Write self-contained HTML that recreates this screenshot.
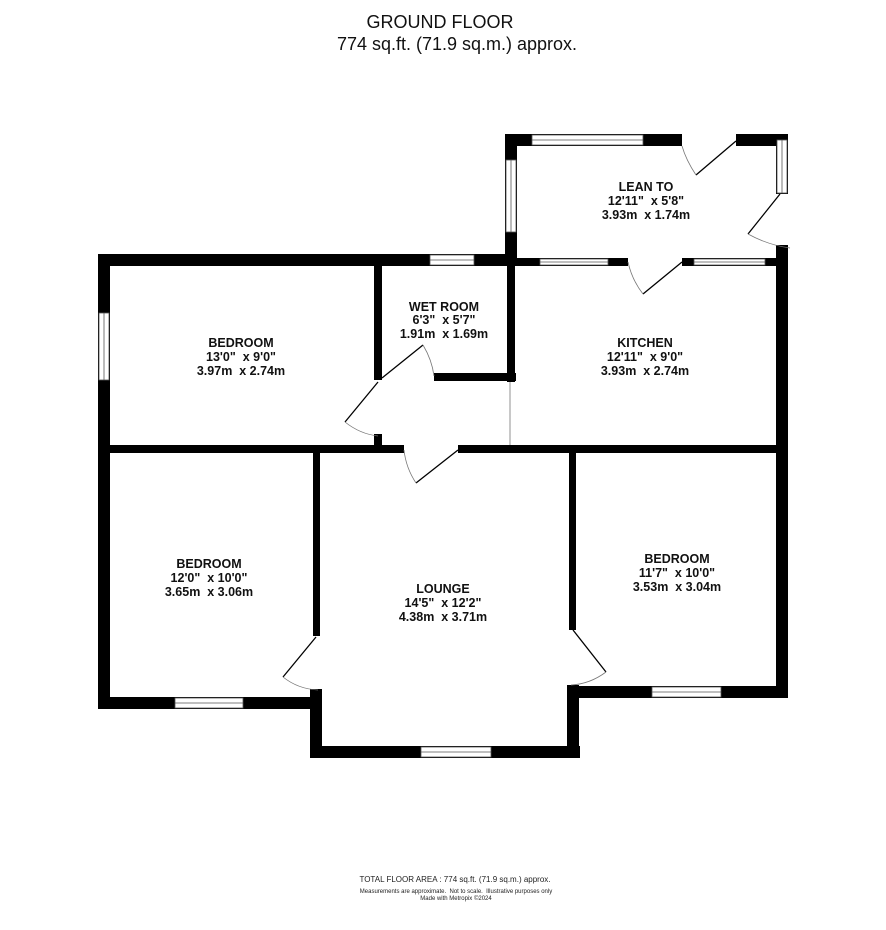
<!DOCTYPE html>
<html><head><meta charset="utf-8"><style>
html,body{margin:0;padding:0;background:#fff;width:886px;height:930px;overflow:hidden}
svg{display:block}
text{font-family:"Liberation Sans",Arial,sans-serif;white-space:pre}
.l{font-weight:bold;font-size:12.5px;text-anchor:middle;fill:#111}
</style></head><body>
<svg width="886" height="930" viewBox="0 0 886 930" xml:space="preserve">
<g font-family="Liberation Sans" fill="#111">
<text x="440" y="28" font-size="18" text-anchor="middle">GROUND FLOOR</text>
<text x="457" y="50" font-size="18" text-anchor="middle">774 sq.ft. (71.9 sq.m.) approx.</text>
</g>
<g fill="#000">
<rect x="98" y="254" width="417" height="12"/>
<rect x="98" y="254" width="12" height="455"/>
<rect x="98" y="697" width="222" height="12"/>
<rect x="310" y="689" width="12" height="69"/>
<rect x="310" y="746" width="270" height="12"/>
<rect x="567" y="685" width="12" height="73"/>
<rect x="567" y="686" width="221" height="12"/>
<rect x="776" y="245" width="12" height="453"/>
<rect x="110" y="445" width="294" height="8"/>
<rect x="374" y="434" width="8" height="11"/>
<rect x="458" y="445" width="318" height="8"/>
<rect x="313" y="453" width="7" height="183"/>
<rect x="569" y="453" width="7" height="177"/>
<rect x="374" y="266" width="8" height="114"/>
<rect x="434" y="373" width="82" height="8"/>
<rect x="507" y="258" width="8" height="124"/>
<rect x="505" y="134" width="12" height="132"/>
<rect x="505" y="134" width="177" height="12"/>
<rect x="736" y="134" width="52" height="12"/>
<rect x="776" y="134" width="12" height="60"/>
<rect x="490" y="258" width="138" height="8"/>
<rect x="682" y="258" width="106" height="8"/>
</g>
<g fill="#fff" stroke="#555" stroke-width="0.8">
<rect x="175" y="698" width="68" height="10"/><line x1="175" y1="703" x2="243" y2="703"/>
<rect x="421" y="747" width="70" height="10"/><line x1="421" y1="752" x2="491" y2="752"/>
<rect x="652" y="687" width="69" height="10"/><line x1="652" y1="692" x2="721" y2="692"/>
<rect x="99" y="313" width="10" height="67"/><line x1="104" y1="313" x2="104" y2="380"/>
<rect x="430" y="255" width="44" height="10"/><line x1="430" y1="260" x2="474" y2="260"/>
<rect x="506" y="160" width="10" height="72"/><line x1="511" y1="160" x2="511" y2="232"/>
<rect x="532" y="135" width="111" height="10"/><line x1="532" y1="140" x2="643" y2="140"/>
<rect x="777" y="140" width="10" height="53"/><line x1="782" y1="140" x2="782" y2="193"/>
<rect x="540" y="259" width="68" height="6"/><line x1="540" y1="262" x2="608" y2="262"/>
<rect x="694" y="259" width="71" height="6"/><line x1="694" y1="262" x2="765" y2="262"/>
</g>
<g fill="none" stroke="#000" stroke-width="1.3">
<line x1="736" y1="141" x2="696" y2="175"/>
<line x1="780" y1="194" x2="748" y2="234"/>
<line x1="682" y1="262" x2="643" y2="294"/>
<line x1="382" y1="378" x2="423" y2="345"/>
<line x1="378" y1="382" x2="345" y2="422"/>
<line x1="458" y1="450" x2="416" y2="483"/>
<line x1="316" y1="637" x2="283" y2="677"/>
<line x1="573" y1="630" x2="606" y2="672"/>
</g>
<g fill="none" stroke="#777" stroke-width="0.8">
<path d="M696 175 Q686 160 682 146"/>
<path d="M748 234 Q768 245 790 248"/>
<path d="M643 294 Q632 280 628 262"/>
<path d="M423 345 Q432 360 434 376"/>
<path d="M345 422 Q360 434 378 436"/>
<path d="M416 483 Q406 468 404 450"/>
<path d="M283 677 Q298 689 318 690"/>
<path d="M606 672 Q590 684 571 685"/>
<line x1="510" y1="382" x2="510" y2="445"/>
</g>
<text class="l" x="646" y="191">LEAN TO</text>
<text class="l" x="646" y="205">12'11"  x 5'8"</text>
<text class="l" x="646" y="219">3.93m  x 1.74m</text>
<text class="l" x="444" y="311">WET ROOM</text>
<text class="l" x="444" y="324">6'3"  x 5'7"</text>
<text class="l" x="444" y="338">1.91m  x 1.69m</text>
<text class="l" x="241" y="347">BEDROOM</text>
<text class="l" x="241" y="361">13'0"  x 9'0"</text>
<text class="l" x="241" y="375">3.97m  x 2.74m</text>
<text class="l" x="645" y="347">KITCHEN</text>
<text class="l" x="645" y="361">12'11"  x 9'0"</text>
<text class="l" x="645" y="375">3.93m  x 2.74m</text>
<text class="l" x="209" y="568">BEDROOM</text>
<text class="l" x="209" y="582">12'0"  x 10'0"</text>
<text class="l" x="209" y="596">3.65m  x 3.06m</text>
<text class="l" x="443" y="593">LOUNGE</text>
<text class="l" x="443" y="607">14'5"  x 12'2"</text>
<text class="l" x="443" y="621">4.38m  x 3.71m</text>
<text class="l" x="677" y="563">BEDROOM</text>
<text class="l" x="677" y="577">11'7"  x 10'0"</text>
<text class="l" x="677" y="591">3.53m  x 3.04m</text>
<g fill="#222" text-anchor="middle">
<text x="455" y="882" font-size="8">TOTAL FLOOR AREA : 774 sq.ft. (71.9 sq.m.) approx.</text>
<text x="456" y="893" font-size="6">Measurements are approximate.  Not to scale.  Illustrative purposes only</text>
<text x="456" y="900" font-size="6">Made with Metropix ©2024</text>
</g>
</svg>
</body></html>
